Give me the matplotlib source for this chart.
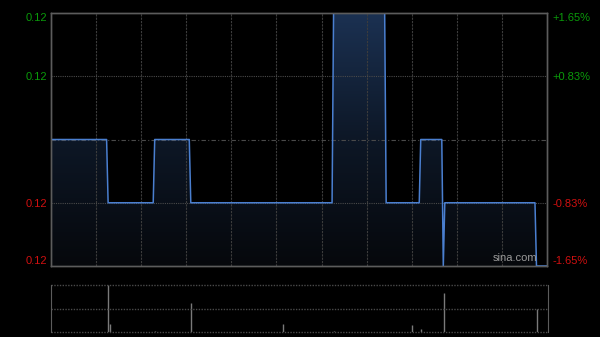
import numpy as np
import matplotlib
matplotlib.use('Agg')
import matplotlib.pyplot as plt
from matplotlib.colors import LinearSegmentedColormap

# intraday price, minutes from open (HK session: 330 trading minutes)
minutes = [0, 37, 38, 68, 69, 92, 93, 187, 188, 222, 223, 245, 246,
           260, 261, 262, 322, 323, 330]
prices = [0.121, 0.121, 0.120, 0.120, 0.121, 0.121, 0.120, 0.120, 0.123,
          0.123, 0.120, 0.120, 0.121, 0.121, 0.119, 0.120, 0.120, 0.119, 0.119]
prev_close = 0.121

# volume bars
vol_minutes = [38, 39, 69, 93, 154, 188, 240, 246, 261, 323]
volumes = [100000, 17000, 1500, 62000, 17000, 1500, 15000, 6000, 84000, 50000]

left_labels = ['0.12', '0.12', '0.12', '0.12']
right_labels = ['+1.65%', '+0.83%', '-0.83%', '-1.65%']
levels = [0.123, 0.122, 0.120, 0.119]
label_colors = ['#0a9a0a', '#0a9a0a', '#d01010', '#d01010']

plt.rcParams['font.family'] = ['Liberation Sans', 'DejaVu Sans']

fig = plt.figure(figsize=(6, 3.37), dpi=100, facecolor='black')
ax = fig.add_axes([51/600, 71/337, 496/600, 253/337], facecolor='black')
axv = fig.add_axes([51/600, 5/337, 497/600, 47/337], facecolor='black')

ymin, ymax = 0.119, 0.123
ax.set_xlim(0, 330)
ax.set_ylim(ymin, ymax)

# gradient fill under the line
grad = np.linspace(1, 0, 256).reshape(-1, 1)
cmap = LinearSegmentedColormap.from_list('g', ['#06080c', '#0d1726', '#1b3152'])
fill = ax.fill_between(minutes, prices, ymin, color='none', lw=0)
img = ax.imshow(grad, cmap=cmap, aspect='auto', extent=[0, 330, ymin, ymax],
                origin='upper', zorder=1)
img.set_clip_path(fill.get_paths()[0], transform=ax.transData)

ax.plot(minutes, prices, color='#4a7fd0', lw=1.1, zorder=3)

# grid
for m in range(30, 330, 30):
    ax.axvline(m, color='#3c3c3c', lw=0.8, ls=(0, (2, 1)), zorder=2)
for lv in [0.122, 0.120]:
    ax.axhline(lv, color='#4a4a4a', lw=0.8, ls=(0, (1, 1)), zorder=2)
ax.axhline(prev_close, color='#4a4a4a', lw=0.8, ls=(0, (4, 2, 1, 2)), zorder=2)

ax.set_xticks([])
ax.set_yticks(levels)
ax.set_yticklabels(left_labels, fontsize=8)
ax.tick_params(axis='y', length=0, pad=3)
for lab, c in zip(ax.get_yticklabels(), label_colors):
    lab.set_color(c)
ax.get_yticklabels()[0].set_va('top')
ax.get_yticklabels()[-1].set_va('bottom')

axr = ax.twinx()
axr.set_ylim(ymin, ymax)
axr.set_yticks(levels)
axr.set_yticklabels(right_labels, fontsize=8)
axr.tick_params(axis='y', length=0, pad=4)
for lab, c in zip(axr.get_yticklabels(), label_colors):
    lab.set_color(c)
axr.get_yticklabels()[0].set_va('top')
axr.get_yticklabels()[-1].set_va('bottom')
for a in (ax, axr):
    for s in a.spines.values():
        s.set_color('#5c5c5c')
        s.set_linewidth(1)

ax.text(0.98, 0.01, 'sina.com', transform=ax.transAxes, ha='right', va='bottom',
        color='#9a9a9a', fontsize=8, zorder=5)

# volume panel
vmax = max(volumes)
axv.set_xlim(0, 330)
axv.set_ylim(0, vmax)
axv.vlines(vol_minutes, 0, volumes, color='#7a7a7a', lw=1)
for lv in [0, vmax / 2, vmax]:
    axv.axhline(lv, color='#4a4a4a', lw=1, ls=(0, (1, 1)), clip_on=False)
axv.set_xticks([])
axv.set_yticks([])
for k in ['top', 'bottom']:
    axv.spines[k].set_visible(False)
for k in ['left', 'right']:
    axv.spines[k].set_color('#5c5c5c')

fig.savefig('out.png', facecolor='black')
